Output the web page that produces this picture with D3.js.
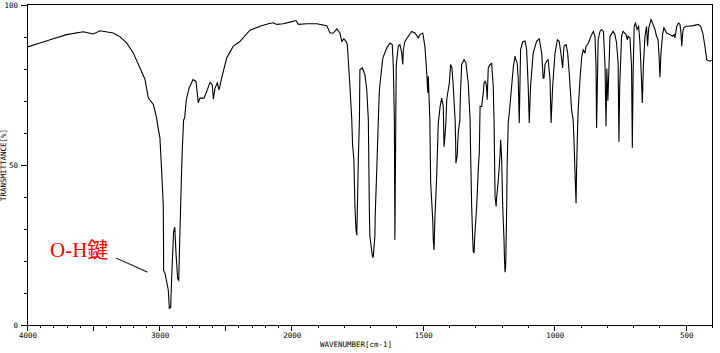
<!DOCTYPE html>
<html>
<head>
<meta charset="utf-8">
<script src="https://cdn.jsdelivr.net/npm/d3@7/dist/d3.min.js"></script>
<style>
  html, body { margin: 0; padding: 0; background: #fff; }
  svg { display: block; }
  .lbl { font-family: "DejaVu Sans Mono", monospace; font-size: 7.5px; fill: #000; }
</style>
</head>
<body>
<svg id="chart" width="720" height="353"></svg>
<script>
// ---- Data ----
const wavenumbers = [
  4000,3902,3801,3700,3574,3498,3448,3347,3296,3246,3196,3145,3107,3082,3044,3019,3014,2994,2981,
  2969,2967,2966,2956,2931,2923,2913,2905,2900,2891,2882,2872,2860,2852,2842,2832,2825,2815,2807,
  2794,2774,2744,2721,2704,2691,2661,2640,2615,2598,2590,2577,2560,2547,2527,2489,2439,2393,2388,
  2313,2237,2174,2136,2111,2061,2010,1982,1973,1941,1903,1865,1853,1840,1827,1815,1808,1800,1792,
  1787,1777,1770,1767,1762,1758,1754,1751,1749,1745,1741,1739,1730,1720,1713,1707,1703,1701,1694,
  1690,1688,1682,1681,1675,1669,1665,1652,1637,1625,1616,1612,1608,1606,1603,1601,1593,1587,1580,
  1576,1574,1568,1555,1542,1530,1517,1511,1500,1492,1485,1481,1479,1473,1470,1462,1460,1457,1454,
  1447,1441,1434,1428,1422,1419,1412,1409,1399,1394,1389,1384,1377,1375,1374,1369,1365,1359,1357,
  1352,1343,1336,1327,1320,1318,1314,1310,1308,1305,1302,1295,1289,1285,1282,1276,1270,1267,1263,
  1260,1257,1255,1251,1244,1238,1232,1229,1225,1221,1219,1213,1206,1204,1200,1196,1191,1189,1187,
  1185,1184,1181,1179,1175,1171,1162,1156,1149,1146,1141,1137,1133,1128,1120,1111,1105,1099,1095,
  1090,1080,1067,1057,1048,1042,1039,1035,1029,1023,1016,1012,1006,997,988,981,974,968,963,955,949,
  943,934,928,925,921,917,915,911,909,902,896,890,883,879,870,858,851,845,841,839,836,833,826,820,
  813,807,803,800,796,792,788,776,769,763,757,754,751,744,738,727,722,719,712,706,703,700,696,691,
  685,679,674,668,665,661,655,649,645,641,632,626,617,611,605,601,598,594,588,583,572,560,550,544,
  541,534,528,522,518,515,511,507,499,490,471,452,443,435,427,420,410,401
];
const transmittance = [
  86.7,88,89.3,90.6,91.5,90.8,91.8,91.1,89.9,88,84.9,80.2,76.6,70.8,68.8,64.6,63,58.3,47.9,
  37.5,26,17,16.2,11,5.2,5.5,15.1,20,29,30.5,22,14.5,14,30,45.3,54.7,64,64.6,
  70.3,73.9,76.6,76,69.3,70.8,70.8,72.9,75.7,75,70.5,73.9,75.5,73.4,77,83.3,87,88.3,88.5,
  92,93.2,94,94.3,93.8,94,94.5,95,93.8,94,94,93.4,91.1,91.1,92.4,91.1,88.5,89.3,88.5,
  87.5,74.5,64,56.3,51.6,37,29.7,28,35,51.6,64,79.7,80.2,78.1,73.4,64,35,27.6,23,
  21,21.5,28,34,48.4,64,73.4,83.3,86.4,88,87.5,80.7,64,26.6,60,81,87,87.5,84.9,
  81.3,85.9,88.5,90.1,91.6,91.1,89.6,90.6,91.1,87,78.6,72.5,77.6,64,44.4,32.8,26.6,23.4,33,
  46.4,63,68.2,70.8,68.2,55.6,63,70.3,75.5,81.3,80.2,74.5,64,57.8,50.5,53,60,64,71.4,
  81.3,82.8,81.8,75.5,64,53.7,37,26.6,23,22.5,28,37,48.4,53.7,68.2,68.2,72.4,75.5,76,
  75.5,73.9,70.3,80.2,81.3,81.6,74.5,64,40,37,40,44.8,53.1,57.8,52,37,26.6,20,16.5,
  18,21,35.9,50,63,66.1,74.5,80.2,83.9,82.8,81.8,77,63,85.9,88.3,88.6,85.9,74.5,63,
  74.5,84.9,88.5,89.3,85,77,77,81.3,82.3,82.8,76.6,63,74.5,84.9,89,88.5,84.4,80.2,87,87.5,84.9,
  78.6,67.2,64,58,47.5,38,48.4,62,67.2,76.6,83.3,85.9,84.9,87,88,90.6,91.6,90,80.7,61.5,75,89,91.6,92.2,
  91.6,81.3,62,80,70,80,90.1,91.6,90.6,88,81.8,57.2,74.5,90.1,91.6,90.6,89,90.1,89.6,80.7,55.3,78.6,93.2,94.2,
  92.2,93.2,88,76,69.3,80.7,90.1,93.2,87,92.5,95.3,94.2,92.2,90.1,89,83.3,77.3,84.9,90.6,92.7,91.1,90.6,90.1,90.6,
  89.6,93.2,94.2,93.8,91.1,87,91.6,92.7,93.2,93.2,93.4,93.8,93.2,91.1,87,82.8,82.3,82.5
];
const xTickValues = d3.range(4000, 399, -100);
const xTickLabels = [4000, 3000, 2000, 1500, 1000, 500];
const yTickValues = d3.range(0, 101, 10);
const yTickLabels = [0, 50, 100];
const xTitle = "WAVENUMBER[cm-1]";
const yTitle = "TRANSMITTANCE[%]";
const annotationText = "O-H鍵";
const annotationTarget = { wn: 3088, t: 16.5 };

(function () {
  const svg = d3.select("#chart");
  const mL = 27, mR = 712, mT = 4.5, mB = 325;

  // piecewise wavenumber scale (4000-2000 compressed by half)
  const x = d3.scaleLinear().domain([4000, 2000, 400]).range([mL, 291.3, mR]);
  const y = d3.scaleLinear().domain([0, 100]).range([mB, mT]);

  // frame
  svg.append("rect")
    .attr("x", mL + 0.5).attr("y", mT)
    .attr("width", mR - mL).attr("height", mB - mT)
    .attr("fill", "none").attr("stroke", "#000").attr("stroke-width", 1)
    .attr("shape-rendering", "crispEdges");

  // x ticks
  const gx = svg.append("g").attr("shape-rendering", "crispEdges");
  gx.selectAll("line").data(xTickValues).join("line")
    .attr("x1", d => Math.round(x(d)) + 0.5).attr("x2", d => Math.round(x(d)) + 0.5)
    .attr("y1", mB).attr("y2", d => mB + (d % 500 === 0 ? 6 : 3))
    .attr("stroke", "#000");
  gx.selectAll("text").data(xTickLabels).join("text")
    .attr("class", "lbl")
    .attr("x", d => x(d) + 1).attr("y", mB + 13)
    .attr("text-anchor", "middle")
    .text(d => d);

  // y ticks
  const gy = svg.append("g").attr("shape-rendering", "crispEdges");
  gy.selectAll("line").data(yTickValues).join("line")
    .attr("x1", mL).attr("x2", d => mL - (d % 50 === 0 ? 6 : 3))
    .attr("y1", d => Math.round(y(d)) + 0.5).attr("y2", d => Math.round(y(d)) + 0.5)
    .attr("stroke", "#000");
  gy.selectAll("text").data(yTickLabels).join("text")
    .attr("class", "lbl")
    .attr("x", mL - 9).attr("y", d => y(d) + 3)
    .attr("text-anchor", "end")
    .text(d => d);

  // titles
  svg.append("text").attr("class", "lbl")
    .attr("x", 356).attr("y", 347).attr("text-anchor", "middle")
    .text(xTitle);
  svg.append("text").attr("class", "lbl")
    .attr("transform", "translate(6,165) rotate(-90)")
    .attr("text-anchor", "middle")
    .text(yTitle);

  // spectrum
  const n = Math.min(wavenumbers.length, transmittance.length);
  const pts = d3.range(n).map(i => [wavenumbers[i], transmittance[i]]);
  const line = d3.line().x(d => x(d[0])).y(d => y(d[1]));
  svg.append("path")
    .datum(pts)
    .attr("d", line)
    .attr("fill", "none")
    .attr("stroke", "#000")
    .attr("stroke-width", 1.1);

  // annotation
  svg.append("text")
    .attr("x", 50).attr("y", 257)
    .attr("fill", "#ff0000")
    .attr("font-family", "'Liberation Serif', 'Noto Sans CJK JP', serif")
    .attr("font-size", 21)
    .text(annotationText);
  svg.append("line")
    .attr("x1", 116).attr("y1", 258)
    .attr("x2", x(annotationTarget.wn)).attr("y2", y(annotationTarget.t))
    .attr("stroke", "#333").attr("stroke-width", 1.2);

  console.log("lengths", wavenumbers.length, transmittance.length);
})();
</script>
</body>
</html>
